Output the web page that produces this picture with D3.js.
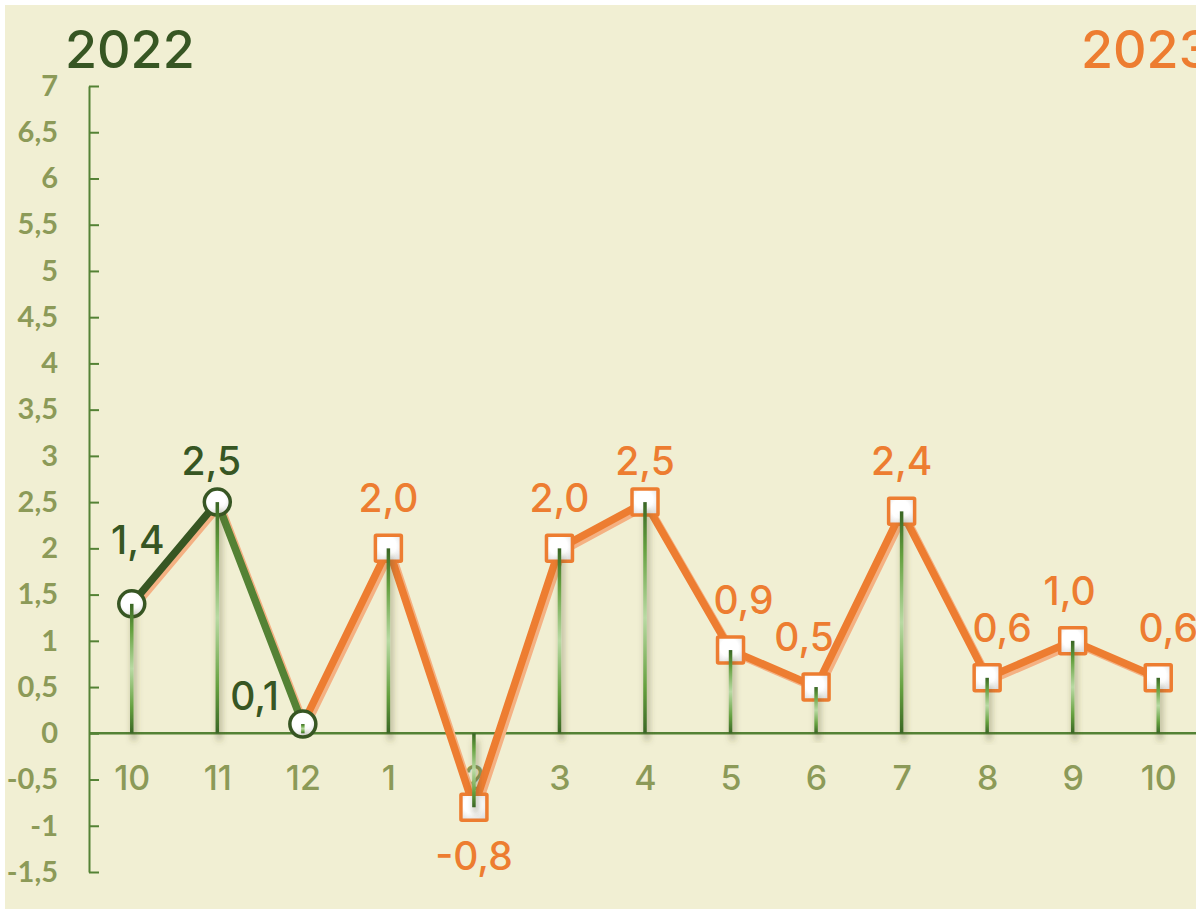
<!DOCTYPE html>
<html>
<head>
<meta charset="utf-8">
<script src="https://cdn.jsdelivr.net/npm/d3@7"></script>
<style>
  body { margin: 0; background: #fff; }
</style>
</head>
<body>
<div id="chart"></div>
<script>
const WIDTH = 1196
const HEIGHT = 909

const months = ["10", "11", "12", "1", "2", "3", "4", "5", "6", "7", "8", "9", "10"]
const values = [1.4, 2.5, 0.1, 2.0, -0.8, 2.0, 2.5, 0.9, 0.5, 2.4, 0.6, 1.0, 0.6]
const years = [2022, 2022, 2022, 2023, 2023, 2023, 2023, 2023, 2023, 2023, 2023, 2023, 2023]
const yTicks = [-1.5, -1, -0.5, 0, 0.5, 1, 1.5, 2, 2.5, 3, 3.5, 4, 4.5, 5, 5.5, 6, 6.5, 7]
const labelPlace = ["high", "near", "left", "above", "below", "above", "near", "above", "above", "above", "above", "above", "above"]
// small horizontal nudges of the data labels, like the auto placement in the source
const labelShift = [6, -6, 0, 0, 0, 0, 0, 13, -12, 0, 15, -3, 10]

const GREEN_DARK = "#375623"
const GREEN = "#548235"
const ORANGE = "#ED7D31"
const SALMON = "#F4B183"
const OLIVE = "#8C9A58"
const FONT = "Inter, 'Noto Sans', sans-serif"

const locale = d3.formatLocale({decimal: ",", thousands: " ", grouping: [3], currency: ["", ""], minus: "-"})
const fmtTick = locale.format(".1~f")
const fmtLabel = locale.format(".1f")

const data = months.map((m, i) => ({key: i, month: m, value: values[i], year: years[i], place: labelPlace[i], shift: labelShift[i]}))

const svg = d3.select("#chart")
    .append("svg")
    .attr("width", WIDTH)
    .attr("height", HEIGHT)

const defs = svg.append("defs")

const dropGrad = defs.append("linearGradient")
    .attr("id", "dropGrad")
    .attr("x1", 0).attr("y1", 0).attr("x2", 0).attr("y2", 1)
dropGrad.selectAll("stop")
    .data([[0, "#3A6625"], [0.2, "#64A03E"], [0.5, "#B9DAA3"], [0.8, "#64A03E"], [1, "#3A6625"]])
    .join("stop")
    .attr("offset", d => d[0])
    .attr("stop-color", d => d[1])

const markGrad = defs.append("radialGradient")
    .attr("id", "markGrad")
    .attr("cx", 0.45).attr("cy", 0.4).attr("r", 0.7)
markGrad.append("stop").attr("offset", 0.5).attr("stop-color", "#ffffff")
markGrad.append("stop").attr("offset", 1).attr("stop-color", "#dcdcdc")

const dropShadow = defs.append("filter")
    .attr("id", "dropShadow")
    .attr("x", "-300%").attr("y", "-20%").attr("width", "700%").attr("height", "140%")
dropShadow.append("feDropShadow")
    .attr("dx", 2).attr("dy", 7)
    .attr("stdDeviation", 3)
    .attr("flood-color", "#4f4f26")
    .attr("flood-opacity", 0.55)

// background panel
svg.append("rect")
    .attr("x", 5).attr("y", 5)
    .attr("width", WIDTH - 5).attr("height", HEIGHT - 5)
    .attr("fill", "#F1EFD3")

const x = d3.scalePoint()
    .domain(data.map(d => d.key))
    .range([89, 1201])
    .padding(0.5)

const y = d3.scaleLinear()
    .domain([-1.5, 7])
    .range([872, 86])

// y axis
const yAxis = d3.axisLeft(y)
    .tickValues(yTicks)
    .tickFormat(fmtTick)
    .tickSizeInner(-10)
    .tickSizeOuter(0)
    .tickPadding(31)

const gy = svg.append("g")
    .attr("transform", `translate(89, 0)`)
    .call(yAxis)
gy.select(".domain").attr("stroke", GREEN).attr("stroke-width", 2)
gy.selectAll(".tick line").attr("stroke", GREEN).attr("stroke-width", 2)
gy.selectAll(".tick text")
    .attr("fill", OLIVE)
    .attr("font-family", "Lato, 'Open Sans', sans-serif")
    .attr("font-weight", "bold")
    .attr("font-size", 29)

// zero line
svg.append("line")
    .attr("x1", 89).attr("x2", WIDTH)
    .attr("y1", y(0)).attr("y2", y(0))
    .attr("stroke", GREEN)
    .attr("stroke-width", 2.5)

// x labels
const xAxis = d3.axisBottom(x)
    .tickFormat(k => months[k])
    .tickSize(0)
    .tickPadding(0)

const gx = svg.append("g")
    .attr("transform", `translate(0, ${y(0)})`)
    .call(xAxis)
gx.select(".domain").remove()
gx.selectAll(".tick text")
    .attr("dy", null)
    .attr("y", 57)
    .attr("fill", OLIVE)
    .attr("font-family", FONT)
    .attr("font-weight", 500)
    .attr("font-size", 34)

// titles
svg.append("text")
    .attr("x", 65).attr("y", 68)
    .attr("fill", GREEN_DARK)
    .attr("font-family", FONT)
    .attr("font-weight", 500)
    .attr("font-size", 52)
    .text("2022")

svg.append("text")
    .attr("x", 1081).attr("y", 68)
    .attr("fill", ORANGE)
    .attr("font-family", FONT)
    .attr("font-weight", 500)
    .attr("font-size", 52)
    .text("2023")

const line = d3.line()
    .x(d => x(d.key))
    .y(d => y(d.value))

// salmon shadow under all lines
svg.append("path")
    .attr("d", line(data))
    .attr("transform", "translate(3, 3)")
    .attr("fill", "none")
    .attr("stroke", SALMON)
    .attr("stroke-width", 7)
    .attr("stroke-linejoin", "round")

// orange 2023 line (starts from last 2022 point)
const orangeData = data.filter((d, i) => i >= 2)
svg.append("path")
    .attr("d", line(orangeData))
    .attr("fill", "none")
    .attr("stroke", ORANGE)
    .attr("stroke-width", 7.5)
    .attr("stroke-linejoin", "round")

// green 2022 segments
const greenData = data.filter(d => d.year === 2022)
const segColors = [GREEN_DARK, GREEN]
svg.selectAll(".seg2022")
    .data(d3.pairs(greenData))
    .join("path")
    .attr("class", "seg2022")
    .attr("d", d => line(d))
    .attr("fill", "none")
    .attr("stroke", (d, i) => segColors[i])
    .attr("stroke-width", 7.5)
    .attr("stroke-linecap", "round")

// markers
svg.selectAll(".sq")
    .data(data.filter(d => d.year === 2023))
    .join("rect")
    .attr("class", "sq")
    .attr("x", d => x(d.key) - 13)
    .attr("y", d => y(d.value) - 13)
    .attr("width", 26).attr("height", 26)
    .attr("fill", "url(#markGrad)")
    .attr("stroke", ORANGE)
    .attr("stroke-width", 3.5)
    .attr("rx", 1)

svg.selectAll(".circ")
    .data(greenData)
    .join("circle")
    .attr("class", "circ")
    .attr("cx", d => x(d.key))
    .attr("cy", d => y(d.value))
    .attr("r", 13)
    .attr("fill", "url(#markGrad)")
    .attr("stroke", GREEN_DARK)
    .attr("stroke-width", 3.5)

// drop lines
svg.selectAll(".drop")
    .data(data)
    .join("rect")
    .attr("class", "drop")
    .attr("x", d => x(d.key) - 1.75)
    .attr("y", d => Math.min(y(d.value), y(0)))
    .attr("width", 3.5)
    .attr("height", d => Math.abs(y(0) - y(d.value)))
    .attr("fill", "url(#dropGrad)")
    .attr("filter", "url(#dropShadow)")

// data labels
const labelDy = {above: -36, near: -27, high: -50, left: -14, below: 63}
svg.selectAll(".lbl")
    .data(data)
    .join("text")
    .attr("class", "lbl")
    .attr("x", d => d.place === "left" ? x(d.key) - 24 : x(d.key) + d.shift)
    .attr("y", d => y(d.value) + labelDy[d.place])
    .attr("text-anchor", d => d.place === "left" ? "end" : "middle")
    .attr("fill", d => d.year === 2022 ? GREEN_DARK : ORANGE)
    .attr("font-family", FONT)
    .attr("font-weight", 500)
    .attr("font-size", 39)
    .text(d => fmtLabel(d.value))
</script>
</body>
</html>
